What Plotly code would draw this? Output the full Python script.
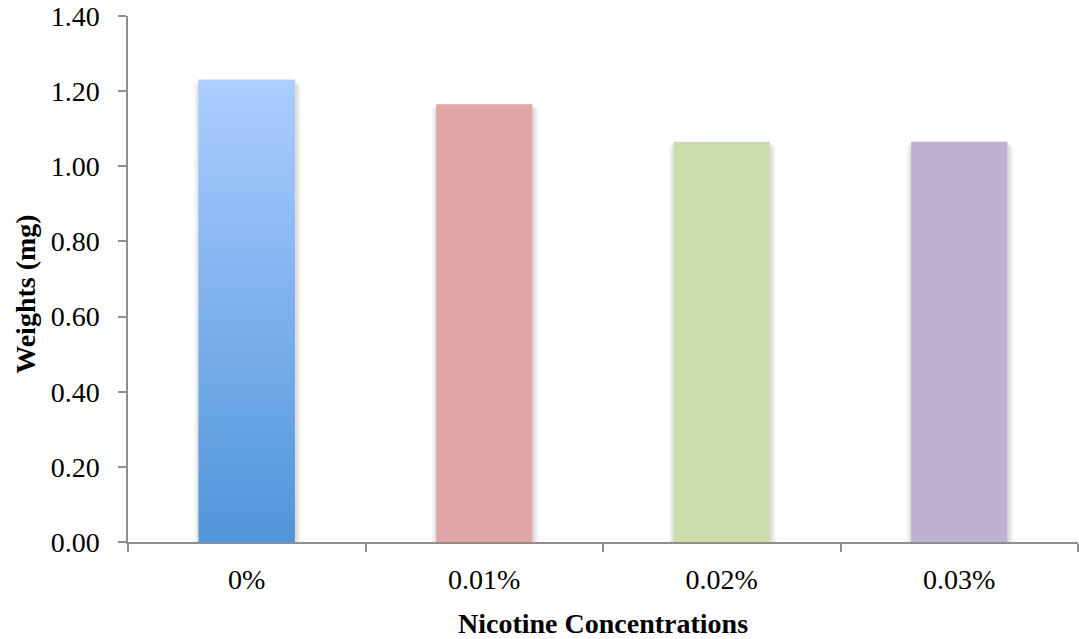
import plotly.graph_objects as go

# Mean larval weights per nicotine concentration
categories = ["0%", "0.01%", "0.02%", "0.03%"]
weights = [1.23, 1.165, 1.065, 1.065]
bar_colors = ["#5495d9", "#e0a7a6", "#cddcab", "#c0b1d3"]
y_ticks = [0.0, 0.2, 0.4, 0.6, 0.8, 1.0, 1.2, 1.4]

BAR_WIDTH = 0.405
AXIS_GREY = "#8e8e8e"
FONT = "Liberation Serif, Times New Roman, serif"
TXT = 28

fig = go.Figure()

# soft drop shadow: a few faint, progressively wider layers behind each bar
for k in range(1, 4):
    grow = 0.007 * k
    fig.add_trace(go.Bar(
        x=categories, y=[w - 0.004 * k for w in weights],
        width=BAR_WIDTH + 2 * grow, offset=-BAR_WIDTH / 2 - grow + 0.003,
        marker=dict(color="rgba(0,0,0,0.045)", line_width=0),
        hoverinfo="skip", showlegend=False,
    ))

# first bar: vertical blue gradient, built from overlapping stacked slices
n_slices = 90
top_rgb = (171, 205, 255)
bot_rgb = (80, 149, 217)
h = weights[0] / n_slices
for i in range(n_slices):
    t = i / (n_slices - 1)
    rgb = tuple(round(b + (a - b) * t) for a, b in zip(top_rgb, bot_rgb))
    base = h * i
    fig.add_trace(go.Bar(
        x=[categories[0]], y=[min(2 * h, weights[0] - base)], base=[base],
        width=BAR_WIDTH,
        marker=dict(color="rgb(%d,%d,%d)" % rgb, line_width=0),
        hoverinfo="skip", showlegend=False,
    ))

# remaining bars, flat fills
fig.add_trace(go.Bar(
    x=categories[1:], y=weights[1:], width=BAR_WIDTH,
    marker=dict(color=bar_colors[1:], line_width=0),
    showlegend=False,
))

fig.update_layout(
    width=1079, height=639,
    margin=dict(l=128, r=1, t=13, b=97),
    barmode="overlay",
    plot_bgcolor="white", paper_bgcolor="white",
    font=dict(family=FONT, size=TXT, color="black"),
)

fig.update_xaxes(
    type="category", categoryorder="array", categoryarray=categories,
    showline=True, linecolor=AXIS_GREY, linewidth=1.5,
    ticks="outside", tickson="boundaries", ticklen=8, tickcolor=AXIS_GREY, tickwidth=1.5,
    ticklabelstandoff=12,
    showgrid=False, tickfont=dict(size=TXT),
    title=dict(text="<b>Nicotine Concentrations</b>", font=dict(size=TXT), standoff=22),
)

fig.update_yaxes(
    range=[0, 1.4], tickvals=y_ticks, tickformat=".2f",
    showline=True, linecolor=AXIS_GREY, linewidth=1.5,
    ticks="outside", ticklen=8, tickcolor=AXIS_GREY, tickwidth=1.5,
    ticklabelstandoff=13, ticklabeloverflow="allow",
    showgrid=False, zeroline=False, tickfont=dict(size=TXT),
)

# vertical axis title, set slightly below the plot's mid-height
fig.add_annotation(
    text="<b>Weights (mg)</b>", textangle=-90,
    xref="paper", yref="paper", x=0, y=0.47,
    xanchor="center", yanchor="middle", xshift=-102,
    showarrow=False, font=dict(size=TXT),
)

fig.write_html("out.html")
